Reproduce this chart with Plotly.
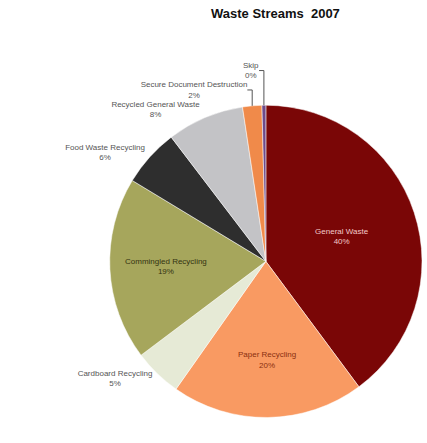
import plotly.graph_objects as go

labels = ["General Waste", "Paper Recycling", "Cardboard Recycling", "Commingled Recycling",
          "Food Waste Recycling", "Recycled General Waste", "Secure Document Destruction", "Skip"]
values = [40, 20, 5, 19, 6, 8, 2, 0.4]
colors = ["#7a0606", "#f99a62", "#e6ead6", "#a6a65c", "#2e2e2e", "#c3c3c6", "#f08a4a", "#6e4a8a"]
positions = ["inside", "inside", "outside", "inside", "outside", "outside", "outside", "outside"]
text_colors = ["#f3c9c9", "#8a3010", "#555555", "#333311", "#555555", "#555555", "#555555", "#555555"]

fig = go.Figure(go.Pie(
    labels=labels, values=values, sort=False, direction="clockwise", rotation=0,
    marker=dict(colors=colors, line=dict(color="#ffffff", width=0.5)),
    texttemplate="%{label}<br>%{percent:.0%}",
    textposition=positions,
    insidetextorientation="horizontal",
    textfont=dict(size=8, color=text_colors, family="Arial"),
    outsidetextfont=dict(size=8, color="#555555", family="Arial"),
    domain=dict(x=[0.26, 1.0], y=[0.04, 0.78]),
    showlegend=False,
))
fig.update_layout(
    width=427, height=443, margin=dict(l=0, r=0, t=0, b=0),
    paper_bgcolor="white", plot_bgcolor="white",
    title=dict(text="<b>Waste Streams  2007</b>", x=0.645, xanchor="center", y=0.98, yanchor="top",
               font=dict(size=13, color="#111111", family="Arial")),
)
fig.write_html("out.html")
